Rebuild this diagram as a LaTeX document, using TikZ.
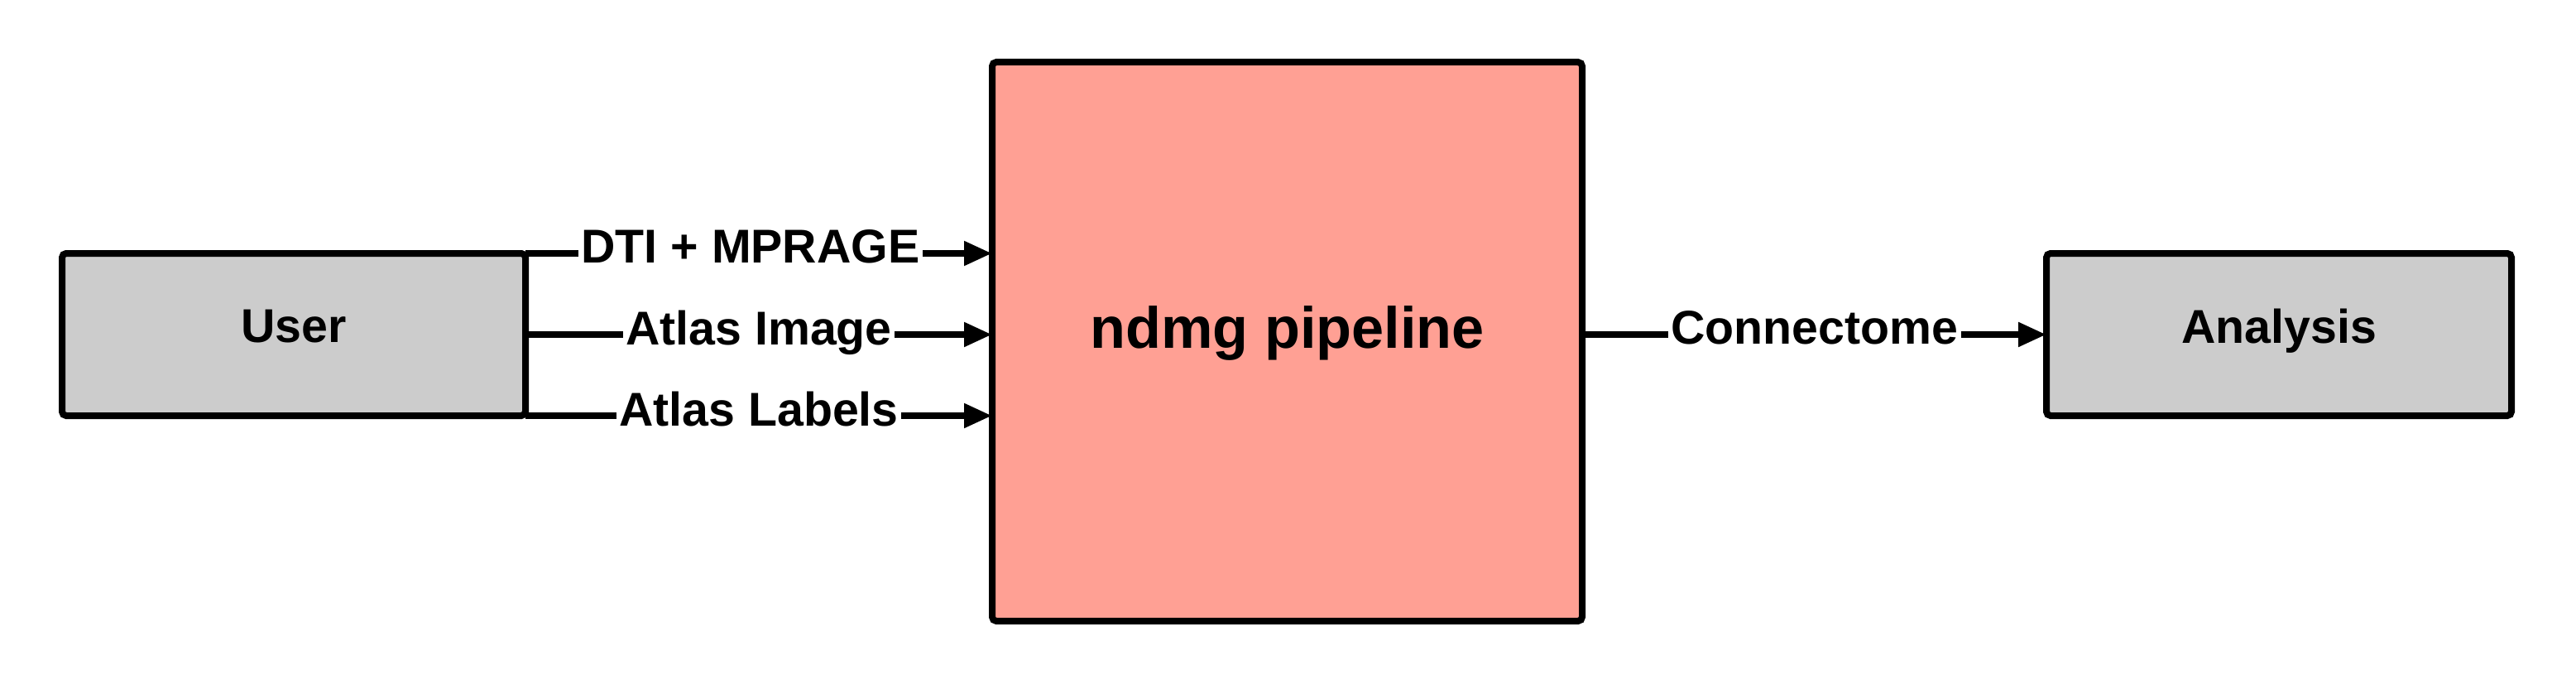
\documentclass[tikz,border=0pt]{standalone}
\usepackage{fontspec}
\setmainfont{Liberation Sans}
\usepackage{tikz}
\usetikzlibrary{positioning}
\usetikzlibrary{calc}
\usetikzlibrary{arrows.meta,shapes,backgrounds}

\definecolor{boxgray}{RGB}{204,204,204}
\definecolor{pipesalmon}{RGB}{255,160,148}

\begin{document}
\begin{tikzpicture}[
    blok/.style={draw,line width=0.08cm,rounded corners=0.05cm,outer sep=0pt,text depth=0.2cm,
                 font=\bfseries\fontsize{16.3}{18}\selectfont},
    strz/.style={line width=0.08cm,-{Triangle[length=0.34cm,width=0.28cm]}},
    opis/.style={fill=white,inner sep=1pt,text depth=0.17cm,font=\bfseries\fontsize{16.3}{18}\selectfont}]
\useasboundingbox (0,0) rectangle (31.13,8.25);

%bloki
\node[blok,fill=boxgray,minimum width=5.6cm,minimum height=1.96cm] (user) at (3.55,4.21) {User};
\node[blok,fill=pipesalmon,minimum width=7.13cm,minimum height=6.75cm,text depth=0.35cm,
      font=\bfseries\fontsize{20}{24}\selectfont] (pipe) at (15.555,4.125) {ndmg pipeline};
\node[blok,fill=boxgray,minimum width=5.62cm,minimum height=1.96cm] (analysis) at (27.54,4.21) {Analysis};

%wejscia
\draw[strz] (user.north east) -- (user.north east -| pipe.west) node[midway,opis,xshift=-0.1cm] {DTI + MPRAGE};
\draw[strz] (user.east) -- (user.east -| pipe.west) node[midway,opis] {Atlas Image};
\draw[strz] (user.south east) -- (user.south east -| pipe.west) node[midway,opis] {Atlas Labels};

%wyjscie
\draw[strz] (analysis.west -| pipe.east) -- (analysis.west) node[midway,opis] {Connectome};

%end
\end{tikzpicture}
\end{document}
